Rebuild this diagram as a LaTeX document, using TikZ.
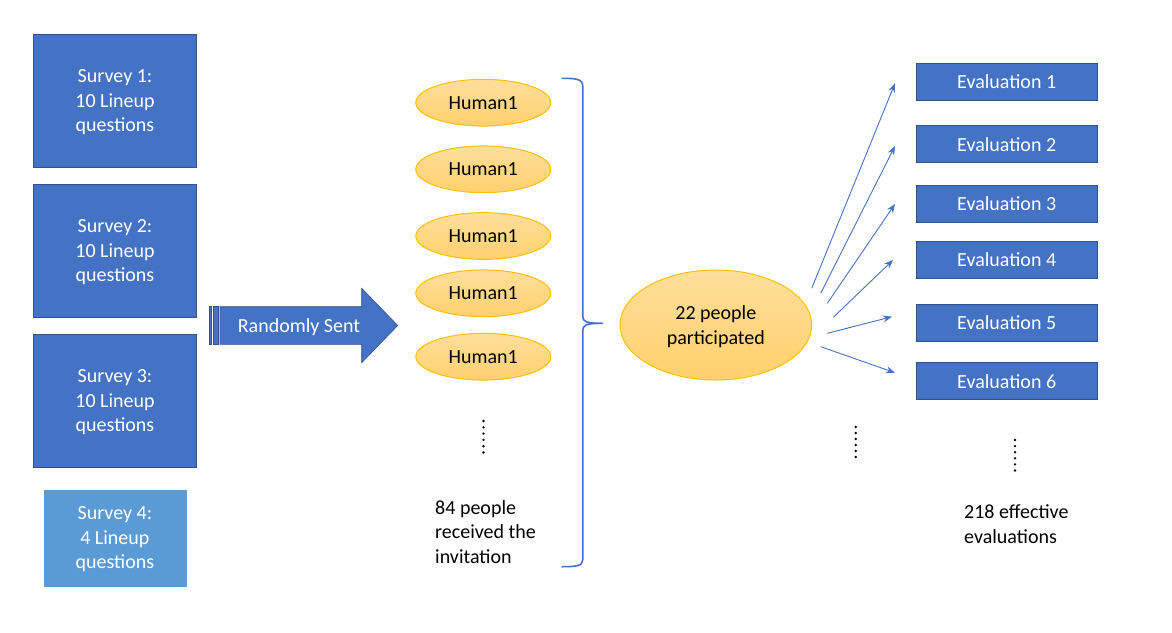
\documentclass[tikz,border=0pt]{standalone}
\usepackage{fontspec}
\setmainfont{Carlito}
\usetikzlibrary{shapes.geometric,arrows.meta}
\definecolor{boxblue}{HTML}{4472C4}
\definecolor{boxedge}{HTML}{2F528F}
\definecolor{lightblue}{HTML}{5B9BD5}
\definecolor{elltop}{HTML}{FFDE9C}
\definecolor{ellbot}{HTML}{FFD06C}
\definecolor{elledge}{HTML}{FFC000}
\tikzset{
  txt/.style={font=\fontsize{20}{24.4}\selectfont},
  survey/.style={txt, draw=boxedge, line width=1pt, fill=boxblue, text=white, align=center, inner sep=0pt, text depth=0pt, minimum width=163.4pt, minimum height=133.3pt},
  survey4/.style={txt, draw=lightblue, line width=0.5pt, fill=lightblue, text=white, align=center, inner sep=0pt, text depth=0pt, minimum width=141.7pt, minimum height=95.7pt},
  evalbox/.style={txt, draw=boxedge, line width=1pt, fill=boxblue, text=white, inner sep=0pt, minimum width=181.3pt, minimum height=37pt},
  human/.style={txt, ellipse, draw=elledge, line width=1pt, top color=elltop, bottom color=ellbot, inner sep=0pt, minimum width=135pt, minimum height=46.7pt},
  bigell/.style={txt, ellipse, draw=elledge, line width=1pt, top color=elltop, bottom color=ellbot, align=center, inner sep=0pt, text depth=0pt, minimum width=191.7pt, minimum height=110pt},
  plain/.style={txt, align=left, inner sep=0pt},
  evarrow/.style={draw=boxblue, line width=0.9pt, -{Stealth[length=9pt,width=7pt]}}
}
\begin{document}
\begin{tikzpicture}[x=1pt,y=-1pt]
\useasboundingbox (0,0) rectangle (1172,632);
% surveys
\node[survey] (s1) at (115,100.7) {Survey 1:\\10 Lineup\\questions};
\node[survey] (s2) at (115,250.7) {Survey 2:\\10 Lineup\\questions};
\node[survey] (s3) at (115,400.7) {Survey 3:\\10 Lineup\\questions};
\node[survey4] (s4) at (114.9,537.9) {Survey 4:\\4 Lineup\\questions};
% striped arrow
\fill[boxblue, draw=boxedge, line width=0.6pt] (209,306.7) rectangle (211.7,344.3);
\fill[boxblue, draw=boxedge, line width=0.6pt] (213.7,306.7) rectangle (218.3,344.3);
\fill[boxblue, draw=boxedge, line width=0.6pt] (220,306.7) -- (361.7,306.7) -- (361.7,288.3) -- (397.7,325.5) -- (361.7,362.7) -- (361.7,344.3) -- (220,344.3) -- cycle;
\node[txt, text=white, inner sep=0pt] (rs) at (299,327.5) {Randomly Sent};
% humans
\node[human] (h1) at (483.3,102.7) {Human1};
\node[human] (h2) at (483.3,169.3) {Human1};
\node[human] (h3) at (483.3,236) {Human1};
\node[human] (h4) at (483.3,293.3) {Human1};
\node[human] (h5) at (483.3,356.7) {Human1};
\foreach \i in {0,...,5} \fill (483.5,421+\i*6.3) circle (1.3pt);
\node[plain, anchor=west] (inv) at (435,532) {84 people\\received the\\invitation};
% brace
\draw[boxblue, line width=1.6pt] (561.7,78.3) .. controls (576,78.3) and (582.7,79) .. (582.7,86)
  -- (582.7,316) .. controls (582.7,322) and (586,323.3) .. (603,323.3)
  .. controls (586,323.3) and (582.7,325) .. (582.7,331)
  -- (582.7,560) .. controls (582.7,566) and (576,566.7) .. (561.7,566.7);
% big ellipse
\node[bigell] (part) at (715.8,325) {22 people\\participated};
\foreach \i in {0,...,5} \fill (855.7,427+\i*6) circle (1.3pt);
% evaluations
\node[evalbox] (e1) at (1006.7,82) {Evaluation 1};
\node[evalbox] (e2) at (1006.7,144.3) {Evaluation 2};
\node[evalbox] (e3) at (1006.7,203.5) {Evaluation 3};
\node[evalbox] (e4) at (1006.7,260) {Evaluation 4};
\node[evalbox] (e5) at (1006.7,322.5) {Evaluation 5};
\node[evalbox] (e6) at (1006.7,381.3) {Evaluation 6};
\foreach \i in {0,...,5} \fill (1015,440+\i*6.1) circle (1.3pt);
\node[plain, anchor=west] (eff) at (964,524) {218 effective\\evaluations};
% arrows
\coordinate (a1) at (811.7,288.3); \coordinate (b1) at (895,83.3);
\coordinate (a2) at (820.7,293.3); \coordinate (b2) at (895,146);
\coordinate (a3) at (827.3,303.3); \coordinate (b3) at (895,204);
\coordinate (a4) at (833.3,317.3); \coordinate (b4) at (893,260);
\coordinate (a5) at (827.3,333.3); \coordinate (b5) at (892,316.7);
\coordinate (a6) at (820.7,346.7); \coordinate (b6) at (895,372.7);
\foreach \i in {1,...,6} \draw[evarrow] (a\i) -- (b\i);
\end{tikzpicture}
\end{document}
